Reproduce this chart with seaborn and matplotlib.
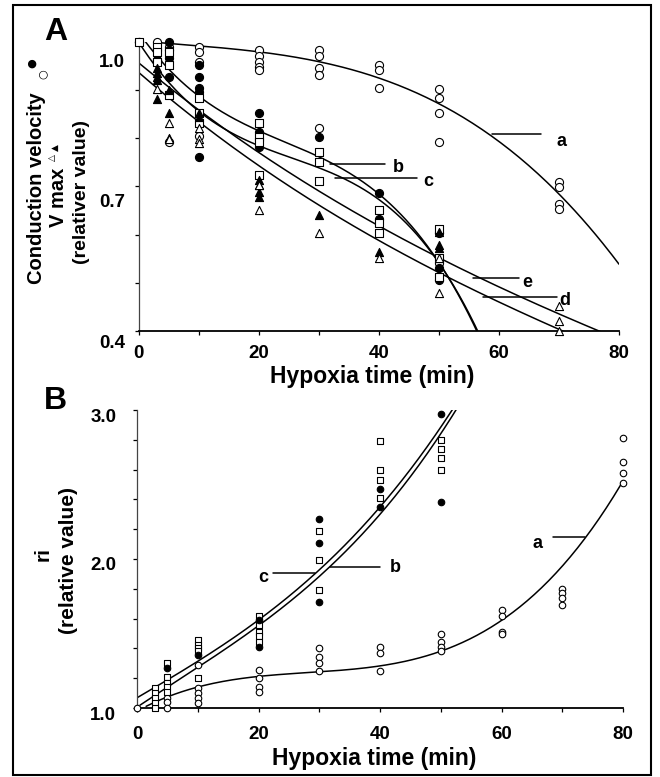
import numpy as np
import pandas as pd
import matplotlib
matplotlib.use("Agg")
import matplotlib.pyplot as plt
import seaborn as sns
from matplotlib.transforms import ScaledTranslation
from matplotlib.patches import Rectangle

# ---------------- Panel A data (relative value) ----------------
A_open_circle_t = [0, 3, 3, 5, 5, 10, 10, 10, 10, 20, 20, 20, 20, 20, 30, 30, 30, 30, 30,
                   40, 40, 40, 50, 50, 50, 50, 50, 70, 70, 70, 70]
A_open_circle_v = [1.0, 1.0, 0.963, 0.99, 0.792, 0.99, 0.98, 0.959, 0.805, 0.983, 0.971, 0.959, 0.948, 0.942,
                   0.983, 0.971, 0.945, 0.931, 0.821, 0.952, 0.942, 0.904, 0.902, 0.884, 0.853, 0.792, 0.541,
                   0.709, 0.699, 0.664, 0.653]
A_filled_circle_t = [0, 3, 5, 5, 5, 5, 10, 10, 10, 10, 10, 20, 20, 20, 30, 40, 40, 50, 50, 50]
A_filled_circle_v = [1.0, 0.963, 1.0, 0.983, 0.967, 0.927, 0.952, 0.927, 0.904, 0.896, 0.761,
                     0.853, 0.813, 0.782, 0.803, 0.686, 0.633, 0.603, 0.531, 0.505]
A_open_square_t = [0, 3, 3, 3, 5, 5, 5, 10, 10, 10, 20, 20, 20, 20, 30, 30, 30, 40, 40, 40, 50, 50, 50]
A_open_square_v = [1.0, 0.99, 0.98, 0.959, 0.98, 0.952, 0.890, 0.884, 0.853, 0.832, 0.832, 0.803, 0.792, 0.724,
                   0.772, 0.751, 0.711, 0.651, 0.624, 0.603, 0.612, 0.552, 0.512]
A_filled_tri_t = [3, 3, 3, 3, 3, 5, 5, 5, 10, 10, 20, 20, 20, 20, 30, 40, 50, 50, 50]
A_filled_tri_v = [0.945, 0.936, 0.927, 0.921, 0.882, 0.900, 0.853, 0.801, 0.853, 0.844,
                  0.713, 0.703, 0.689, 0.678, 0.641, 0.564, 0.605, 0.579, 0.572]
A_open_tri_t = [3, 5, 5, 10, 10, 10, 20, 20, 30, 40, 50, 50, 70, 70, 70]
A_open_tri_v = [0.902, 0.832, 0.799, 0.821, 0.799, 0.790, 0.703, 0.651, 0.603, 0.552,
                0.552, 0.479, 0.452, 0.421, 0.40]

# fitted curves of panel A at a few times
A_curve_names = ["a", "b", "c", "d", "e"]
A_curve_t = {
    "a": [3, 10, 20, 30, 40, 50, 58.8, 66.9, 80],
    "b": [1, 5, 10, 20, 31.9, 40, 48.6, 53.6, 56],
    "c": [0, 5, 10, 20, 32.7, 40, 48.6, 53.6, 56.3],
    "d": [0, 22.4, 29.7, 39.7, 50, 57.3, 71],
    "e": [0, 25.7, 31.9, 40, 53.5, 55.7, 77],
}
A_curve_v = {
    "a": [1.0, 0.99, 0.982, 0.959, 0.918, 0.880, 0.809, 0.713, 0.541],
    "b": [1.0, 0.948, 0.886, 0.817, 0.747, 0.686, 0.564, 0.479, 0.40],
    "c": [0.99, 0.93, 0.86, 0.775, 0.718, 0.686, 0.56, 0.475, 0.40],
    "d": [0.938, 0.713, 0.672, 0.595, 0.52, 0.471, 0.40],
    "e": [0.958, 0.713, 0.678, 0.635, 0.527, 0.51, 0.40],
}

# ---------------- Panel B data (ri, relative value) ----------------
B_open_circle_t = [0, 5, 5, 5, 10, 10, 10, 10, 10, 20, 20, 20, 20, 30, 30, 30, 30, 40, 40, 40,
                   50, 50, 50, 50, 60, 60, 60, 60, 70, 70, 70, 70, 80, 80, 80, 80]
B_open_circle_v = [1.0, 1.07, 1.04, 1.0, 1.29, 1.134, 1.10, 1.067, 1.034, 1.255, 1.20, 1.14, 1.11,
                   1.40, 1.34, 1.30, 1.25, 1.41, 1.37, 1.25, 1.50, 1.44, 1.41, 1.38,
                   1.66, 1.62, 1.51, 1.50, 1.80, 1.77, 1.74, 1.69, 2.81, 2.65, 2.58, 2.51]
B_open_square_t = [3, 3, 3, 3, 3, 5, 5, 5, 5, 5, 10, 10, 10, 10, 10, 20, 20, 20, 20, 20,
                   30, 30, 30, 40, 40, 40, 40, 50, 50, 50, 50]
B_open_square_v = [1.134, 1.10, 1.067, 1.034, 1.0, 1.30, 1.21, 1.17, 1.14, 1.11,
                   1.456, 1.42, 1.40, 1.38, 1.20, 1.62, 1.56, 1.51, 1.48, 1.44,
                   2.19, 1.99, 1.79, 2.79, 2.60, 2.53, 2.41, 2.80, 2.74, 2.68, 2.60]
B_filled_circle_t = [5, 10, 20, 20, 30, 30, 30, 40, 40, 50, 50]
B_filled_circle_v = [1.27, 1.356, 1.59, 1.41, 2.27, 2.11, 1.71, 2.47, 2.35, 2.97, 2.38]

B_curve_names = ["a", "b", "c"]
B_curve_t = {
    "a": [1.5, 10, 20, 30, 40, 50, 60, 70, 73.7, 80],
    "b": [0.5, 10, 20, 31.7, 40, 46.6, 52.5],
    "c": [0, 10, 20, 29.3, 40, 46.6, 51.8],
}
B_curve_v = {
    "a": [1.0, 1.16, 1.21, 1.24, 1.28, 1.37, 1.59, 1.96, 2.15, 2.51],
    "b": [1.02, 1.27, 1.555, 1.946, 2.30, 2.64, 3.0],
    "c": [1.07, 1.31, 1.59, 1.906, 2.35, 2.68, 3.0],
}

# ---------------- styling ----------------
sns.set_theme(style="white")
plt.rcParams['font.family'] = ['Liberation Sans', 'DejaVu Sans']
plt.rcParams['font.weight'] = 'bold'
for k in ("text.color", "axes.labelcolor", "xtick.color", "ytick.color", "axes.edgecolor"):
    plt.rcParams[k] = "black"

W, H = 660, 777
fig = plt.figure(figsize=(W / 100, H / 100), dpi=100)


def P(x, y):
    return x / W, 1 - y / H


axA = fig.add_axes([138.7 / W, (H - 331) / H, (619 - 138.7) / W, (331 - 42) / H])
axB = fig.add_axes([137 / W, (H - 708) / H, (623 - 137) / W, (708 - 410) / H])

marker_styles = {
    "open_circle": dict(marker="o", facecolor="white"),
    "filled_circle": dict(marker="o", facecolor="black"),
    "open_square": dict(marker="s", facecolor="white"),
    "filled_tri": dict(marker="^", facecolor="black"),
    "open_tri": dict(marker="^", facecolor="white"),
}

dfA = pd.concat([
    pd.DataFrame({"t": A_open_circle_t, "v": A_open_circle_v, "kind": "open_circle"}),
    pd.DataFrame({"t": A_filled_circle_t, "v": A_filled_circle_v, "kind": "filled_circle"}),
    pd.DataFrame({"t": A_open_square_t, "v": A_open_square_v, "kind": "open_square"}),
    pd.DataFrame({"t": A_filled_tri_t, "v": A_filled_tri_v, "kind": "filled_tri"}),
    pd.DataFrame({"t": A_open_tri_t, "v": A_open_tri_v, "kind": "open_tri"}),
])
dfB = pd.concat([
    pd.DataFrame({"t": B_open_circle_t, "v": B_open_circle_v, "kind": "open_circle"}),
    pd.DataFrame({"t": B_open_square_t, "v": B_open_square_v, "kind": "open_square"}),
    pd.DataFrame({"t": B_filled_circle_t, "v": B_filled_circle_v, "kind": "filled_circle"}),
])

curve_deg = {"A": {"a": 3, "b": 3, "c": 3, "d": 3, "e": 3},
             "B": {"a": 3, "b": 3, "c": 3}}


def draw_curves(ax, names, ct, cv, degs, t_end):
    for n in names:
        coef = np.polyfit(ct[n], cv[n], degs[n])
        tt = np.linspace(ct[n][0], t_end.get(n, ct[n][-1]), 200)
        sns.lineplot(x=tt, y=np.polyval(coef, tt), ax=ax, color="black", lw=1.1,
                     estimator=None, sort=False, zorder=2)


def draw_points(ax, df, size):
    for kind, sub in df.groupby("kind", sort=False):
        st = marker_styles[kind]
        sns.scatterplot(data=sub, x="t", y="v", ax=ax, marker=st["marker"], facecolor=st["facecolor"],
                        edgecolor="black", linewidth=0.8, s=size, zorder=3, clip_on=False, legend=False)


draw_curves(axA, A_curve_names, A_curve_t, A_curve_v, curve_deg["A"],
            {"b": 58, "c": 58, "d": 72, "e": 78})
draw_points(axA, dfA, 34)
draw_curves(axB, B_curve_names, B_curve_t, B_curve_v, curve_deg["B"], {"b": 54, "c": 54})
draw_points(axB, dfB, 22)

for ax in (axA, axB):
    ax.set_xlim(0, 80)
    sns.despine(ax=ax)
    ax.spines["left"].set_color("#444444")
    ax.spines["left"].set_linewidth(0.9)
    ax.spines["bottom"].set_color("black")
    ax.spines["bottom"].set_linewidth(1.3)
    ax.set_xticks([0, 20, 40, 60, 80])
    ax.set_xticks([10, 30, 50, 70], minor=True)
    ax.tick_params(axis="both", which="both", direction="out", length=3, width=0.9,
                   colors="black", labelsize=13.5, bottom=True, left=True)
    ax.set_xlabel("")
    ax.set_ylabel("")

axA.set_ylim(0.4, 1.0)
axA.set_yticks([0.4, 0.7, 1.0])
axA.set_yticks([0.5, 0.6, 0.8, 0.9], minor=True)
axA.set_yticklabels(["0.4", "0.7", "1.0"], fontweight="bold", color="black")
axA.set_xticklabels(["0", "20", "40", "60", "80"], fontweight="bold", color="black")
axA.tick_params(axis="y", pad=7)
axA.tick_params(axis="x", pad=7)

axB.set_ylim(1.0, 3.0)
axB.set_yticks([1.0, 2.0, 3.0])
axB.set_yticks([1.2, 1.4, 1.6, 1.8, 2.2, 2.4, 2.6, 2.8], minor=True)
axB.set_yticklabels(["1.0", "2.0", "3.0"], fontweight="bold", color="black")
axB.set_xticklabels(["0", "20", "40", "60", "80"], fontweight="bold", color="black")
axB.tick_params(axis="y", pad=12)
axB.tick_params(axis="x", pad=10)

# shift y tick labels downward as in the original figure
for tick, dy in zip(axA.yaxis.get_major_ticks(), [11, 14, 19]):
    lab = tick.label1
    lab.set_transform(lab.get_transform() + ScaledTranslation(0, -dy / 100, fig.dpi_scale_trans))
for tick in axB.yaxis.get_major_ticks():
    lab = tick.label1
    lab.set_transform(lab.get_transform() + ScaledTranslation(0, -5 / 100, fig.dpi_scale_trans))

# axis labels
for ax, ycoord, xc in ((axA, -0.118, 0.486), (axB, -0.13, 0.488)):
    ax.set_xlabel("Hypoxia time (min)", fontsize=16.5, fontweight="bold", color="black")
    ax.xaxis.set_label_coords(xc, ycoord)
    ax.xaxis.label.set_va("top")

# curve labels with leader lines (data coords)
A_labels = {"a": ((58.8, 67.0), 0.809, (70.5, 0.794)),
            "b": ((31.9, 41.0), 0.747, (43.2, 0.740)),
            "c": ((32.7, 46.4), 0.718, (48.2, 0.711)),
            "e": ((55.7, 63.3), 0.510, (64.8, 0.500)),
            "d": ((57.3, 69.7), 0.471, (71.0, 0.464))}
B_labels = {"a": ((68.5, 73.7), 2.148, (66.0, 2.107)),
            "c": ((22.4, 29.3), 1.906, (20.7, 1.879)),
            "b": ((31.8, 40.0), 1.946, (42.6, 1.94))}
for ax, labs in ((axA, A_labels), (axB, B_labels)):
    for name, (xs, yv, (tx, ty)) in labs.items():
        ax.plot(list(xs), [yv, yv], color="black", lw=1.1, clip_on=False, zorder=2)
        ax.text(tx, ty, name, fontsize=13, fontweight="bold", ha="center", va="center",
                clip_on=False, color="black")

# panel letters
fig.text(*P(56, 32), "A", fontsize=23, fontweight="bold", ha="center", va="center", color="black")
fig.text(*P(55, 401), "B", fontsize=23, fontweight="bold", ha="center", va="center", color="black")

# y labels (multi-line, rotated)
fig.text(*P(37, 188), "Conduction velocity", rotation=90, fontsize=14.5, fontweight="bold",
         ha="center", va="center", color="black")
fig.text(*P(43, 74), "\u25CB", rotation=90, fontsize=8, ha="center", va="center",
         family=["DejaVu Sans"], color="black")
fig.text(*P(32, 63), "\u25CF", rotation=90, fontsize=8, ha="center", va="center",
         family=["DejaVu Sans"], color="black")
fig.text(*P(59, 197), "V max", rotation=90, fontsize=14.5, fontweight="bold", ha="center",
         va="center", color="black")
fig.text(*P(52, 158), "\u25B3", rotation=90, fontsize=6.5, ha="center", va="center",
         family=["DejaVu Sans"], color="black")
fig.text(*P(55, 148), "\u25B2", rotation=90, fontsize=6.5, ha="center", va="center",
         family=["DejaVu Sans"], color="black")
fig.text(*P(82, 192), "(relativer value)", rotation=90, fontsize=14, fontweight="bold",
         ha="center", va="center", color="black")

fig.text(*P(43, 554), "ri", rotation=90, fontsize=15, fontweight="bold", ha="center",
         va="center", color="black")
fig.text(*P(68, 560), "(relative value)", rotation=90, fontsize=15, fontweight="bold",
         ha="center", va="center", color="black")

# outer frame
fig.patches.append(Rectangle(P(13, 775), (651 - 13) / W, (775 - 5) / H, transform=fig.transFigure,
                             fill=False, lw=1.5, ec="black"))

fig.savefig("out.png", dpi=100)
